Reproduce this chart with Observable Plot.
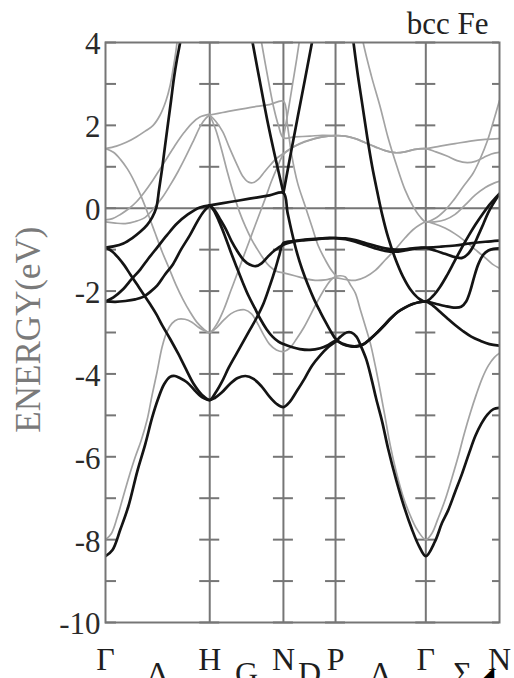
<!DOCTYPE html>
<html><head><meta charset="utf-8">
<script src="https://cdn.jsdelivr.net/npm/d3@7"></script>
<script src="https://cdn.jsdelivr.net/npm/@observablehq/plot@0.6"></script>
<style>html,body{margin:0;padding:0;background:#fff}</style>
</head><body><div id="chart"></div>
<script>
// high-symmetry points (k along path, units 2π/a)
const symK = [0, 1, 1.707, 2.207, 3.073, 3.780];
const symLabels = ["Γ", "H", "N", "P", "Γ", "N"];
const dirLabels = ["Δ", "G", "D", "Λ", "Σ"];
const yTickLabels = [4, 2, 0, -2, -4, -6, -8, -10];
const minorTickE = [4, 3, 2, 1, 0, -1, -2, -3, -4, -5, -6, -7, -8, -9, -10];

// ---- majority (black) bands: [k, E(eV)] ----
const up1 = [[0,-8.4],[.067,-8.25],[.143,-7.75],[.219,-7.2],[.305,-6.35],[.381,-5.7],[.448,-5.05],[.505,-4.6],[.562,-4.25],[.619,-4.07],[.667,-4.05],[.714,-4.1],[.781,-4.2],[.857,-4.4],[.924,-4.56],[1,-4.63],
 [1.048,-4.58],[1.115,-4.45],[1.191,-4.25],[1.268,-4.1],[1.344,-4.05],[1.42,-4.12],[1.497,-4.3],[1.573,-4.55],[1.64,-4.72],[1.707,-4.8],
 [1.766,-4.68],[1.834,-4.42],[1.913,-4.1],[1.981,-3.8],[2.06,-3.55],[2.138,-3.35],[2.207,-3.22],
 [2.255,-3.1],[2.312,-3.0],[2.359,-3.0],[2.407,-3.1],[2.454,-3.35],[2.502,-3.65],[2.55,-4.1],[2.597,-4.6],[2.654,-5.15],[2.711,-5.8],[2.788,-6.55],[2.864,-7.2],[2.94,-7.75],[3.007,-8.15],[3.073,-8.4],
 [3.16,-8.05],[3.228,-7.6],[3.286,-7.3],[3.354,-6.85],[3.422,-6.4],[3.49,-5.9],[3.548,-5.5],[3.606,-5.2],[3.664,-4.98],[3.722,-4.85],[3.78,-4.82]];
const up2 = [[0,-0.95],[.067,-1.05],[.124,-1.2],[.181,-1.38],[.238,-1.6],[.305,-1.85],[.371,-2.1],[.429,-2.32],[.486,-2.55],[.543,-2.82],[.619,-3.15],[.695,-3.5],[.771,-3.88],[.848,-4.25],[.924,-4.5],[1,-4.63],
 [1.057,-4.45],[1.115,-4.2],[1.182,-3.85],[1.248,-3.55],[1.315,-3.25],[1.382,-2.95],[1.449,-2.65],[1.516,-2.3],[1.573,-1.9],[1.631,-1.45],[1.669,-1.12],[1.707,-0.84],
 [1.815,-0.79],[1.913,-0.76],[2.011,-0.74],[2.109,-0.72],[2.207,-0.72],
 [2.302,-0.73],[2.397,-0.77],[2.493,-0.84],[2.588,-0.91],[2.683,-0.97],[2.778,-1.0],[2.873,-0.99],[2.968,-0.96],[3.073,-0.95],
 [3.209,-0.93],[3.354,-0.9],[3.499,-0.85],[3.644,-0.81],[3.78,-0.78]];
const up3 = [[1,0.07],[1.048,-0.05],[1.096,-0.25],[1.153,-0.5],[1.21,-0.8],[1.268,-1.05],[1.325,-1.25],[1.382,-1.36],[1.44,-1.4],[1.497,-1.33],[1.554,-1.18],[1.621,-1.02],[1.707,-0.88],
 [1.785,-0.82],[1.883,-0.78],[2.011,-0.75],[2.109,-0.73],[2.207,-0.72],
 [2.302,-0.75],[2.397,-0.81],[2.493,-0.89],[2.588,-0.97],[2.683,-1.03],[2.778,-1.05],[2.873,-1.02],[2.968,-0.98],[3.073,-0.96],
 [3.16,-1.02],[3.257,-1.1],[3.354,-1.18],[3.422,-1.2],[3.48,-1.1],[3.528,-0.92],[3.577,-0.65],[3.625,-0.38],[3.673,-0.1],[3.722,0.12],[3.78,0.35]];
const up4 = [[0,-2.25],[.076,-2.15],[.171,-1.95],[.248,-1.72],[.333,-1.48],[.41,-1.22],[.495,-0.95],[.59,-0.65],[.686,-0.37],[.79,-0.15],[.905,0.02],[1,0.07]];
const up5 = [[0,-2.25],[.095,-2.26],[.19,-2.24],[.286,-2.2],[.362,-2.14],[.429,-2.02],[.495,-1.87],[.571,-1.6],[.648,-1.35],[.724,-1.0],[.81,-0.65],[.886,-0.3],[.943,-0.08],[1,0.07]];
const up6 = [[0,-0.95],[.076,-0.92],[.171,-0.85],[.257,-0.72],[.333,-0.57],[.4,-0.4],[.448,-0.22],[.486,0],[.514,0.45],[.543,0.95],[.571,1.5],[.6,2.05],[.629,2.6],[.657,3.15],[.686,3.6],[.714,3.97],[.743,4.4]];
const up7 = [[1,0.07],[1.191,0.15],[1.382,0.23],[1.573,0.31],[1.707,0.37],
 [1.746,-0.1],[1.785,-0.55],[1.834,-1.05],[1.883,-1.45],[1.942,-1.85],[2.001,-2.2],[2.06,-2.5],[2.119,-2.78],[2.168,-3.0],[2.207,-3.15],
 [2.274,-3.28],[2.34,-3.33],[2.407,-3.34],[2.473,-3.29],[2.54,-3.16],[2.607,-3.0],[2.673,-2.83],[2.74,-2.65],[2.807,-2.5],[2.873,-2.4],[2.94,-2.32],[3.007,-2.27],[3.073,-2.25],
 [3.16,-2.3],[3.257,-2.36],[3.354,-2.4],[3.412,-2.38],[3.46,-2.25],[3.499,-2.0],[3.538,-1.65],[3.577,-1.35],[3.625,-1.12],[3.673,-1.02],[3.722,-0.98],[3.78,-0.97]];
const up8 = [[1,0.07],[1.038,-0.05],[1.086,-0.3],[1.143,-0.65],[1.201,-1.05],[1.258,-1.42],[1.315,-1.78],[1.373,-2.12],[1.43,-2.4],[1.487,-2.68],[1.545,-2.92],[1.602,-3.1],[1.659,-3.22],[1.707,-3.28],
 [1.785,-3.35],[1.864,-3.4],[1.962,-3.42],[2.06,-3.38],[2.138,-3.3],[2.207,-3.2],
 [2.274,-3.27],[2.34,-3.32],[2.407,-3.33],[2.473,-3.28],[2.54,-3.15],[2.607,-3.0],[2.673,-2.83],[2.74,-2.65],[2.807,-2.5],[2.873,-2.4],[2.94,-2.32],[3.007,-2.27],[3.073,-2.25],
 [3.141,-2.35],[3.209,-2.5],[3.276,-2.65],[3.354,-2.82],[3.431,-2.97],[3.509,-3.1],[3.596,-3.2],[3.683,-3.28],[3.78,-3.32]];
const up9a = [[1.382,4.4],[1.411,4.0],[1.478,3.1],[1.554,2.1],[1.631,1.2],[1.707,0.37]];
const up9b = [[1.707,0.37],[1.776,1.3],[1.844,2.2],[1.913,3.1],[1.981,4.0],[2.011,4.4]];
const up10 = [[2.35,4.6],[2.369,4.2],[2.416,3.3],[2.464,2.5],[2.512,1.7],[2.559,1.0],[2.607,0.4],[2.654,-0.15],[2.711,-0.7],[2.778,-1.2],[2.854,-1.65],[2.931,-1.98],[3.007,-2.18],[3.073,-2.25],
 [3.141,-2.12],[3.209,-1.9],[3.276,-1.62],[3.344,-1.3],[3.412,-0.98],[3.48,-0.68],[3.548,-0.4],[3.615,-0.15],[3.683,0.08],[3.731,0.22],[3.78,0.35]];

// ---- minority (grey) bands ----
const dn1 = [[0,-8.0],[.057,-7.85],[.114,-7.45],[.171,-6.95],[.229,-6.45],[.286,-6.0],[.343,-5.6],[.4,-5.1],[.448,-4.5],[.495,-3.95],[.543,-3.35],[.59,-2.98],[.638,-2.78],[.695,-2.68],[.762,-2.68],[.829,-2.75],[.895,-2.88],[.952,-2.96],[1,-3.0],
 [1.067,-2.88],[1.134,-2.7],[1.201,-2.55],[1.268,-2.47],[1.334,-2.45],[1.401,-2.55],[1.459,-2.78],[1.516,-3.05],[1.573,-3.28],[1.64,-3.42],[1.707,-3.46],
 [1.766,-3.38],[1.834,-3.15],[1.903,-2.88],[1.972,-2.55],[2.04,-2.22],[2.109,-1.92],[2.168,-1.72],[2.207,-1.65],
 [2.255,-1.63],[2.302,-1.66],[2.35,-1.85],[2.397,-2.05],[2.445,-2.45],[2.493,-2.85],[2.54,-3.25],[2.588,-3.8],[2.635,-4.4],[2.683,-5.05],[2.73,-5.7],[2.788,-6.35],[2.854,-6.95],[2.921,-7.4],[2.988,-7.75],[3.073,-8.0],
 [3.131,-7.85],[3.189,-7.5],[3.257,-7.05],[3.325,-6.5],[3.383,-6.0],[3.441,-5.45],[3.499,-4.95],[3.557,-4.5],[3.615,-4.1],[3.673,-3.8],[3.731,-3.6],[3.78,-3.5]];
const dn2 = [[0,1.44],[.076,1.35],[.143,1.18],[.21,0.95],[.276,0.65],[.343,0.28],[.41,-0.15],[.476,-0.6],[.543,-1.05],[.61,-1.45],[.676,-1.85],[.743,-2.2],[.81,-2.5],[.876,-2.75],[.943,-2.92],[1,-3.0],
 [1.067,-2.8],[1.134,-2.45],[1.201,-2.0],[1.268,-1.55],[1.334,-1.1],[1.401,-0.65],[1.468,-0.2],[1.535,0.25],[1.592,0.65],[1.65,1.0],[1.707,1.3],
 [1.785,1.45],[1.864,1.56],[1.962,1.65],[2.06,1.71],[2.207,1.75],
 [2.302,1.74],[2.397,1.68],[2.493,1.58],[2.588,1.48],[2.683,1.39],[2.778,1.34],[2.873,1.36],[2.968,1.42],[3.073,1.44],
 [3.209,1.5],[3.354,1.56],[3.499,1.62],[3.644,1.66],[3.78,1.68]];
const dn3 = [[1,2.25],[1.057,2.1],[1.124,1.85],[1.191,1.45],[1.258,1.07],[1.315,0.78],[1.373,0.63],[1.42,0.62],[1.468,0.7],[1.526,0.88],[1.583,1.05],[1.64,1.2],[1.707,1.32],
 [1.776,1.44],[1.864,1.55],[1.962,1.64],[2.079,1.72],[2.207,1.75],
 [2.302,1.74],[2.397,1.68],[2.493,1.58],[2.588,1.48],[2.683,1.39],[2.778,1.34],[2.873,1.36],[2.968,1.42],[3.073,1.44],
 [3.17,1.36],[3.276,1.26],[3.373,1.15],[3.47,1.1],[3.548,1.13],[3.625,1.22],[3.702,1.31],[3.78,1.35]];
const dn4 = [[1.468,4.4],[1.497,4.0],[1.554,3.2],[1.612,2.45],[1.659,2.0],[1.707,1.7],[1.815,1.72],[1.962,1.74],[2.079,1.76],[2.207,1.75]];
const dn5 = [[1.707,1.7],[1.756,2.4],[1.795,3.0],[1.834,3.6],[1.864,4.1],[1.883,4.4]];
const dn6 = [[1,2.25],[1.124,2.31],[1.382,2.43],[1.573,2.5],[1.707,2.58],
 [1.746,2.0],[1.785,1.3],[1.844,0.6],[1.913,0.07],[1.981,-0.45],[2.04,-0.9],[2.109,-1.25],[2.168,-1.5],[2.207,-1.62]];
const dn7 = [[1,2.25],[1.057,1.9],[1.115,1.4],[1.172,0.85],[1.229,0.35],[1.287,-0.1],[1.344,-0.45],[1.401,-0.75],[1.459,-1.0],[1.516,-1.22],[1.573,-1.4],[1.64,-1.52],[1.707,-1.56],
 [1.815,-1.63],[1.913,-1.7],[2.011,-1.74],[2.109,-1.73],[2.207,-1.68],
 [2.302,-1.72],[2.397,-1.74],[2.493,-1.66],[2.588,-1.5],[2.683,-1.25],[2.778,-1.0],[2.873,-0.72],[2.95,-0.52],[3.016,-0.4],[3.073,-0.33],
 [3.16,-0.38],[3.257,-0.48],[3.354,-0.62],[3.451,-0.8],[3.548,-1.0],[3.644,-1.2],[3.712,-1.35],[3.78,-1.45]];
const dn8 = [[2.445,4.5],[2.464,4.1],[2.55,3.2],[2.635,2.45],[2.711,1.7],[2.797,1.0],[2.873,0.45],[2.95,0.05],[3.016,-0.2],[3.073,-0.33],
 [3.16,-0.25],[3.257,-0.05],[3.335,0.18],[3.431,0.52],[3.528,0.85],[3.596,1.2],[3.664,1.63],[3.722,2.1],[3.78,2.6]];
const dn9 = [[0,-0.33],[.095,-0.36],[.19,-0.37],[.286,-0.32],[.381,-0.22],[.457,-0.02],[.543,0.25],[.619,0.55],[.695,0.88],[.771,1.25],[.848,1.65],[.914,2.0],[.962,2.17],[1,2.25]];
const dn10 = [[0,-0.28],[.067,-0.25],[.143,-0.15],[.219,-0.02],[.295,0.15],[.371,0.38],[.448,0.65],[.524,0.95],[.6,1.25],[.676,1.55],[.752,1.82],[.829,2.05],[.905,2.2],[1,2.27]];
const dn11 = [[0,1.44],[.105,1.5],[.2,1.59],[.295,1.72],[.381,1.86],[.457,2.0],[.524,2.25],[.581,2.6],[.619,2.95],[.648,3.35],[.676,3.8],[.695,4.2]];
const dn12 = [[3.073,-0.33],[3.16,-0.33],[3.257,-0.28],[3.354,-0.15],[3.451,0.08],[3.548,0.32],[3.644,0.5],[3.722,0.6],[3.78,0.65]];

const majority = [up1, up2, up3, up4, up5, up6, up7, up8, up9a, up9b, up10];
const minority = [dn1, dn2, dn3, dn4, dn5, dn6, dn7, dn8, dn9, dn10, dn11, dn12];

const toRows = (bands) => bands.flatMap((b, i) => b.map(([k, e]) => ({band: i, k, e})));
const upRows = toRows(majority);
const dnRows = toRows(minority);

const kMax = symK[symK.length - 1];
const pxPerK = (514 - 105 - 15) / kMax;
const half = 10 / pxPerK;
const innerK = symK.slice(1, -1);
const crossRows = innerK.flatMap(k => minorTickE.map(e => ({k1: k - half, k2: k + half, e})));
const leftRows = minorTickE.map(e => ({k1: 0, k2: 11 / pxPerK, e}));
const rightRows = minorTickE.map(e => ({k1: kMax - 7 / pxPerK, k2: kMax, e}));
const dirK = dirLabels.map((_, i) => (symK[i] + symK[i + 1]) / 2);

const serif = "Liberation Serif, Times New Roman, serif";
const grid = "#767676";

const chart = Plot.plot({
  width: 514, height: 678,
  marginTop: 42, marginBottom: 56, marginLeft: 105, marginRight: 15,
  x: {domain: [0, kMax], axis: null},
  y: {domain: [-10, 4], axis: null},
  style: {background: "#fff", overflow: "hidden"},
  marks: [
    Plot.ruleX(innerK, {stroke: grid, strokeWidth: 2}),
    Plot.ruleY([0], {stroke: grid, strokeWidth: 2}),
    Plot.ruleY(crossRows, {y: "e", x1: "k1", x2: "k2", stroke: grid, strokeWidth: 2}),
    Plot.ruleY(leftRows, {y: "e", x1: "k1", x2: "k2", stroke: grid, strokeWidth: 2}),
    Plot.ruleY(rightRows, {y: "e", x1: "k1", x2: "k2", stroke: grid, strokeWidth: 2}),
    Plot.line(dnRows, {x: "k", y: "e", z: "band", stroke: "#a3a3a3", strokeWidth: 1.7, curve: "catmull-rom", clip: true}),
    Plot.line(upRows, {x: "k", y: "e", z: "band", stroke: "#141414", strokeWidth: 2.7, curve: "catmull-rom", clip: true}),
    Plot.frame({stroke: grid, strokeWidth: 2}),
    Plot.text(yTickLabels, {x: 0, y: d => d, text: d => String(d), textAnchor: "end", dx: -5, dy: 2, fontSize: 31, fontFamily: serif, fill: "#2a2a2a"}),
    Plot.text(symK, {x: d => d, y: -10, text: (d, i) => symLabels[i], dy: 47, lineAnchor: "bottom", fontSize: 32, fontFamily: serif, fill: "#1e1e1e"}),
    Plot.text(dirK, {x: d => d, y: -10, text: (d, i) => dirLabels[i], dy: 61, lineAnchor: "bottom", fontSize: 32, fontFamily: serif, fill: "#1e1e1e"}),
    Plot.text(["bcc Fe"], {x: kMax, y: 4, text: d => d, textAnchor: "end", dx: -11, dy: -9, lineAnchor: "bottom", fontSize: 31, fontFamily: serif, fill: "#222"}),
    Plot.text(["ENERGY(eV)"], {x: 0, y: -2.93, text: d => d, rotate: -90, dx: -77, fontSize: 35, fontFamily: serif, fill: "#7a7a7a"}),
    Plot.text(["◢"], {x: kMax, y: -10, text: d => d, dx: -11, dy: 50, fontSize: 15, fontFamily: "DejaVu Sans", fill: "#000"})
  ]
});
document.getElementById("chart").append(chart);
</script>
</body></html>
